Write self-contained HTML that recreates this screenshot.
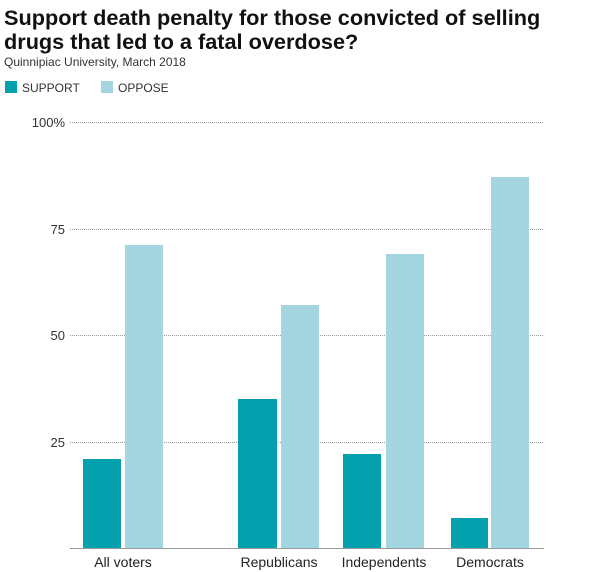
<!DOCTYPE html>
<html><head><style>body{margin:0;background:#fff}svg{display:block}</style></head><body>
<svg width="600" height="572" xmlns="http://www.w3.org/2000/svg" font-family="Liberation Sans, sans-serif">
<text x="4" y="25" font-size="21.7" font-weight="bold" fill="#111">Support death penalty for those convicted of selling</text>
<text x="4" y="49" font-size="21.7" font-weight="bold" fill="#111">drugs that led to a fatal overdose?</text>
<text x="4" y="66" font-size="12" fill="#333">Quinnipiac University, March 2018</text>
<rect x="5" y="81" width="12" height="12" fill="#05a0ad"/>
<text x="22" y="92" font-size="12" fill="#333">SUPPORT</text>
<rect x="101" y="81" width="12" height="12" fill="#a4d6e2"/>
<text x="118" y="92" font-size="12" fill="#333">OPPOSE</text>
<g stroke="#999" stroke-dasharray="1,1" stroke-width="1">
<line x1="70" x2="544" y1="122.5" y2="122.5"/>
<line x1="70" x2="544" y1="229.5" y2="229.5"/>
<line x1="70" x2="544" y1="335.5" y2="335.5"/>
<line x1="70" x2="544" y1="442.5" y2="442.5"/>
</g>
<g font-size="13" fill="#333" text-anchor="end">
<text x="65" y="127">100%</text>
<text x="65" y="234">75</text>
<text x="65" y="340">50</text>
<text x="65" y="447">25</text>
</g>
<g fill="#05a0ad">
<rect x="83" y="459" width="38" height="89"/>
<rect x="238" y="399" width="39" height="149"/>
<rect x="343" y="454" width="38" height="94"/>
<rect x="451" y="518" width="37" height="30"/>
</g>
<g fill="#a4d6e2">
<rect x="125" y="245" width="38" height="303"/>
<rect x="281" y="305" width="38" height="243"/>
<rect x="386" y="254" width="38" height="294"/>
<rect x="491" y="177" width="38" height="371"/>
</g>
<line x1="70" x2="544" y1="548.5" y2="548.5" stroke="#999"/>
<g font-size="14" fill="#222" text-anchor="middle">
<text x="123" y="567">All voters</text>
<text x="279" y="567">Republicans</text>
<text x="384" y="567">Independents</text>
<text x="490" y="567">Democrats</text>
</g>
</svg>
</body></html>
